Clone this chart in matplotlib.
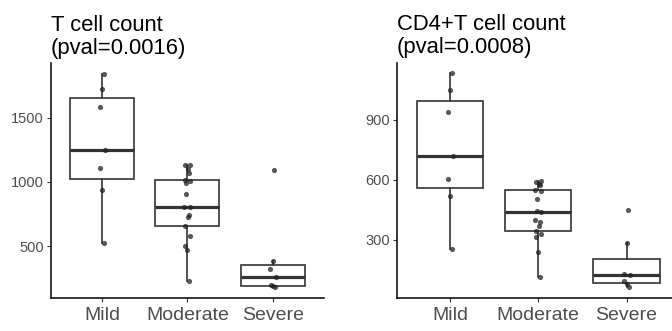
import numpy as np
import matplotlib
matplotlib.use("Agg")
import matplotlib.pyplot as plt

plt.rcParams['font.family'] = ['Liberation Sans', 'DejaVu Sans']

## Data ##

groups = ['Mild', 'Moderate', 'Severe']

t_cell_mild = [526, 936, 1105, 1249, 1582, 1718, 1838]
t_cell_moderate = [231, 470, 500, 580, 660, 728, 744, 808, 808, 910,
                   995, 1005, 1015, 1072, 1103, 1133, 1133]
t_cell_severe = [185, 190, 200, 262, 325, 390, 1095]

cd4_mild = [255, 518, 606, 717, 941, 1051, 1132]
cd4_moderate = [114, 241, 315, 330, 345, 370, 390, 400, 440, 445,
                507, 545, 550, 575, 580, 590, 595]
cd4_severe = [65, 80, 95, 124, 130, 283, 449]

t_cell_ticks = [500, 1000, 1500]
cd4_ticks = [300, 600, 900]

panels = [
  ('T cell count\n(pval=0.0016)', [t_cell_mild, t_cell_moderate, t_cell_severe], t_cell_ticks),
  ('CD4+T cell count\n(pval=0.0008)', [cd4_mild, cd4_moderate, cd4_severe], cd4_ticks),
]

## End of Data ##

W, H = 672, 331
fig = plt.figure(figsize=(W / 100, H / 100), dpi=100)

# axes boxes in pixels: left, top, right, bottom
boxes = [(50.7, 63.3, 324.0, 297.7), (397.0, 62.7, 679.6, 297.7)]

line_col = '#333333'


def jitter(n):
  # fixed small horizontal spread, like a light geom_jitter
  return 0.035 * np.sin(np.arange(n) * 2.4 + 0.7)


for (title, data, ticks), (l, t, r, b) in zip(panels, boxes):
  ax = fig.add_axes([l / W, 1 - b / H, (r - l) / W, (b - t) / H])
  pos = np.arange(1, len(groups) + 1)

  ax.boxplot(data, positions=pos, widths=0.75, showfliers=False, showcaps=False,
             patch_artist=True,
             boxprops=dict(facecolor='white', edgecolor=line_col, linewidth=1.2),
             whiskerprops=dict(color=line_col, linewidth=1.2),
             medianprops=dict(color=line_col, linewidth=2.3))

  for p, vals in zip(pos, data):
    ax.scatter(p + jitter(len(vals)), vals, s=14, color='#222222', alpha=0.75,
               linewidths=0, zorder=3)

  allv = np.concatenate(data)
  span = allv.max() - allv.min()
  ax.set_ylim(allv.min() - 0.05 * span, allv.max() + 0.05 * span)
  ax.set_xlim(0.4, 3.6)

  ax.set_xticks(pos)
  ax.set_xticklabels(groups, fontsize=14, color='#4D4D4D')
  ax.set_yticks(ticks)
  ax.set_yticklabels([str(v) for v in ticks], fontsize=10.5, color='#4D4D4D')
  ax.tick_params(axis='both', length=3, width=0.8, color='#333333')
  ax.tick_params(axis='x', pad=4)
  ax.tick_params(axis='y', pad=2)

  for side in ['top', 'right']:
    ax.spines[side].set_visible(False)
  for side in ['left', 'bottom']:
    ax.spines[side].set_linewidth(1.1)
    ax.spines[side].set_color('black')

  ax.set_title(title, loc='left', fontsize=15.8, color='black', pad=7,
               linespacing=1.1)

plt.savefig('out.png', dpi=100)
